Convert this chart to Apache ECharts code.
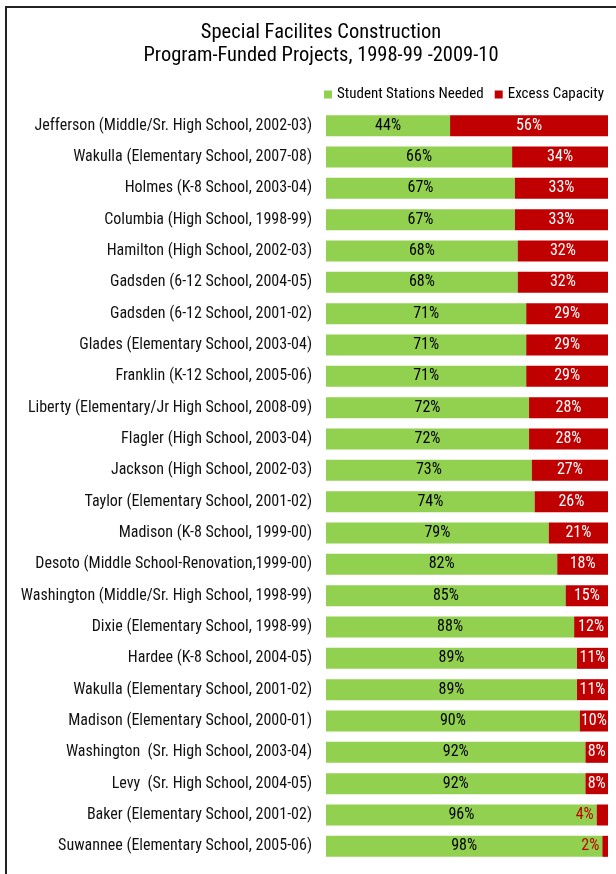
<!DOCTYPE html>
<html>
<head>
<meta charset="utf-8">
<script src="https://cdn.jsdelivr.net/npm/echarts@6/dist/echarts.min.js"></script>
<style>
  html, body { margin: 0; padding: 0; background: #fff; }
  #frame { position: absolute; left: 5px; top: 6px; width: 700px; height: 900px; border: 2px solid #222; box-sizing: border-box; }
  #chart { position: absolute; left: 0; top: 0; width: 616px; height: 874px; }
</style>
</head>
<body>
<div id="frame"></div>
<div id="chart"></div>
<script>
const FONT = '"Roboto Condensed", "Liberation Sans Narrow", "Arial Narrow", sans-serif';

const projects = [
  'Jefferson (Middle/Sr. High School, 2002-03)',
  'Wakulla (Elementary School, 2007-08)',
  'Holmes (K-8 School, 2003-04)',
  'Columbia (High School, 1998-99)',
  'Hamilton (High School, 2002-03)',
  'Gadsden (6-12 School, 2004-05)',
  'Gadsden (6-12 School, 2001-02)',
  'Glades (Elementary School, 2003-04)',
  'Franklin (K-12 School, 2005-06)',
  'Liberty (Elementary/Jr High School, 2008-09)',
  'Flagler (High School, 2003-04)',
  'Jackson (High School, 2002-03)',
  'Taylor (Elementary School, 2001-02)',
  'Madison (K-8 School, 1999-00)',
  'Desoto (Middle School-Renovation,1999-00)',
  'Washington (Middle/Sr. High School, 1998-99)',
  'Dixie (Elementary School, 1998-99)',
  'Hardee (K-8 School, 2004-05)',
  'Wakulla (Elementary School, 2001-02)',
  'Madison (Elementary School, 2000-01)',
  'Washington  (Sr. High School, 2003-04)',
  'Levy  (Sr. High School, 2004-05)',
  'Baker (Elementary School, 2001-02)',
  'Suwannee (Elementary School, 2005-06)'
];

const stationsNeeded = [44, 66, 67, 67, 68, 68, 71, 71, 71, 72, 72, 73, 74, 79, 82, 85, 88, 89, 89, 90, 92, 92, 96, 98];
const excessCapacity = [56, 34, 33, 33, 32, 32, 29, 29, 29, 28, 28, 27, 26, 21, 18, 15, 12, 11, 11, 10, 8, 8, 4, 2];

const GREEN = '#92D050';
const RED = '#C00000';

// Very thin red segments get their label outside, to the left, in red
const excessData = excessCapacity.map(v => v < 6
  ? { value: v, label: { position: 'left', distance: 3, color: RED } }
  : v);

const chart = echarts.init(document.getElementById('chart'), null, { renderer: 'canvas' });
chart.setOption({
  animation: false,
  backgroundColor: 'transparent',
  title: {
    text: 'Special Facilites Construction\nProgram-Funded Projects, 1998-99 -2009-10',
    left: 316,
    top: 16,
    textAlign: 'center',
    textStyle: { fontFamily: FONT, fontSize: 20.5, fontWeight: 'normal', color: '#000', lineHeight: 23 }
  },
  legend: {
    right: 7,
    top: 82,
    itemWidth: 8,
    itemHeight: 8,
    itemGap: 11,
    icon: 'rect',
    textStyle: { fontFamily: FONT, fontSize: 15, color: '#000' },
    data: ['Student Stations Needed', 'Excess Capacity']
  },
  grid: { left: 326, right: 8, top: 110, height: 752, containLabel: false, outerBoundsMode: 'none' },
  xAxis: { type: 'value', min: 0, max: 100, show: false },
  yAxis: {
    type: 'category',
    data: projects,
    inverse: true,
    axisLine: { show: false },
    axisTick: { show: false },
    axisLabel: { fontFamily: FONT, fontSize: 16, color: '#111', margin: 14 }
  },
  series: [
    {
      name: 'Student Stations Needed',
      type: 'bar',
      stack: 'total',
      barWidth: 21,
      itemStyle: { color: GREEN },
      label: { show: true, position: 'inside', formatter: '{c}%', fontFamily: FONT, fontSize: 16, color: '#000' },
      data: stationsNeeded
    },
    {
      name: 'Excess Capacity',
      type: 'bar',
      stack: 'total',
      barWidth: 21,
      itemStyle: { color: RED },
      label: { show: true, position: 'inside', formatter: '{c}%', fontFamily: FONT, fontSize: 16, color: '#fff' },
      data: excessData
    }
  ]
});
</script>
</body>
</html>
